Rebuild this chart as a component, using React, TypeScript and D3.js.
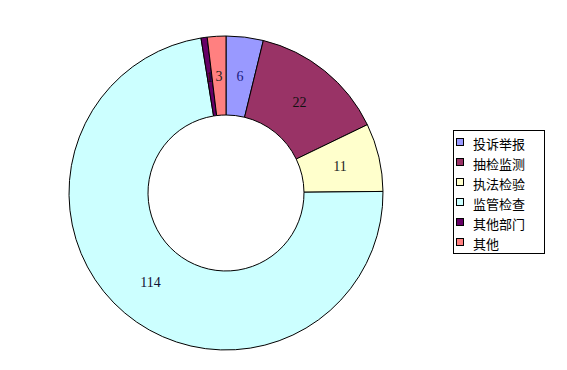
import React from "react";
import * as d3 from "d3";

const categories = ["投诉举报", "抽检监测", "执法检验", "监管检查", "其他部门", "其他"];
const values = [6, 22, 11, 114, 1, 3];
const colors = ["#9999FF", "#993366", "#FFFFCC", "#CCFFFF", "#660066", "#FF8080"];
const labelColors = ["#1a1a80", "#111111", "#222222", "#111133", "#111111", "#222222"];

export default function App() {
  const W = 567, H = 370;
  const cx = 226, cy = 193, R = 157, r0 = 78;
  const pie = d3.pie<number>().sort(null).startAngle(0).endAngle(2 * Math.PI);
  const arcs = pie(values);
  const arc = d3.arc<d3.PieArcDatum<number>>().innerRadius(r0).outerRadius(R);
  const labelArc = d3.arc<d3.PieArcDatum<number>>().innerRadius(117).outerRadius(117);
  const legendY = d3.scaleBand<string>().domain(categories).range([133, 253]);
  return (
    <svg width={W} height={H} style={{ position: "absolute", left: 0, top: 0, background: "#fff" }}>
      <g transform={`translate(${cx},${cy})`}>
        {arcs.map((a, i) => (
          <path key={i} d={arc(a) || ""} fill={colors[i]} stroke="#000" strokeWidth={1} />
        ))}
        {arcs.map((a, i) => {
          const [x, y] = labelArc.centroid(a);
          return (
            <text key={"l" + i} x={x} y={y} textAnchor="middle" dominantBaseline="central"
              fontFamily="Liberation Serif, serif" fontSize={14} fill={labelColors[i]}>
              {values[i]}
            </text>
          );
        })}
      </g>
      <rect x={453.5} y={130.5} width={91} height={123} fill="#fff" stroke="#000" strokeWidth={1} />
      {categories.map((c, i) => {
        const y = (legendY(c) || 0) + legendY.bandwidth() / 2;
        return (
          <g key={c}>
            <rect x={456.5} y={y - 4.5} width={7} height={7} fill={colors[i]} stroke="#000" strokeWidth={1} />
            <text x={473} y={y} dominantBaseline="central" fontFamily="Noto Sans CJK SC" fontSize={13} fill="#000">{c}</text>
          </g>
        );
      })}
    </svg>
  );
}
